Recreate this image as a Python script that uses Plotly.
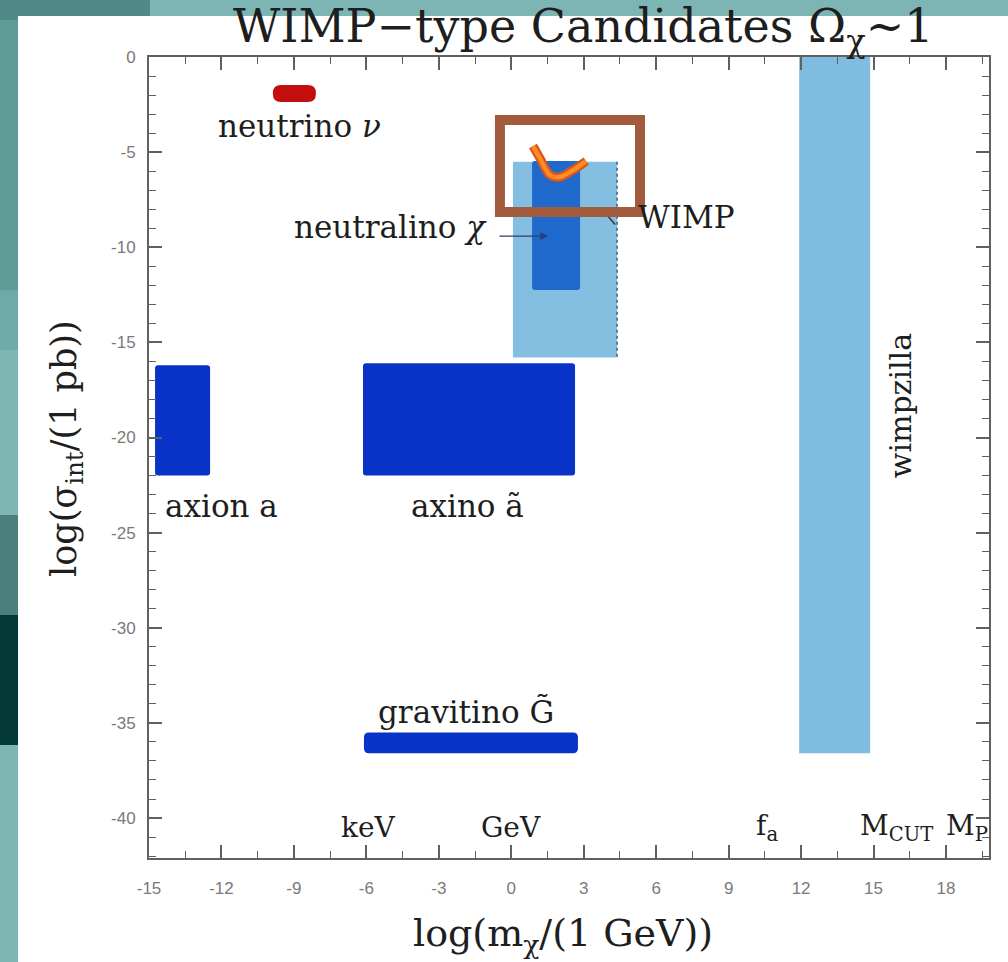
import plotly.graph_objects as go

# ---------------- data ----------------
x_range = [-15, 19.78]
y_range = [-42.1, 0]

x_tickvals = [-15, -12, -9, -6, -3, 0, 3, 6, 9, 12, 15, 18]
x_ticktext = ["-15", "-12", "-9", "-6", "-3", "0", "3", "6", "9", "12", "15", "18"]
y_tickvals = [0, -5, -10, -15, -20, -25, -30, -35, -40]
y_ticktext = ["0", "-5", "-10", "-15", "-20", "-25", "-30", "-35", "-40"]

# candidate regions (log mass range, log cross-section range)
region_names = ["wimpzilla", "WIMP", "neutralino", "axion", "axino", "gravitino", "neutrino"]
region_x0 = [11.92, 0.07, 0.86, -14.75, -6.14, -6.10, -9.87]
region_x1 = [14.86, 4.38, 2.85, -12.47, 2.64, 2.76, -8.09]
region_y0 = [0.0, -5.5, -5.47, -16.2, -16.1, -35.5, -1.47]
region_y1 = [-36.6, -15.8, -12.24, -22.0, -22.0, -36.6, -2.36]
region_colors = ["#80bcdf", "#84bfe2", "#1f69cc", "#0833c6", "#0833c6", "#0833c6", "#c40d0d"]
region_radius_px = [0, 1, 3, 3, 3, 5, 8]

# experimental curve (orange)
curve_x = [0.90, 1.20, 1.60, 1.98, 2.55, 3.10]
curve_y = [-4.68, -5.35, -6.20, -6.32, -5.95, -5.47]

# highlight box
hl_x = [-0.47, 5.33]
hl_y = [-3.31, -8.15]

# text labels
label_text = ["neutrino <i>ν</i>", "neutralino <i>χ</i>", "WIMP", "axion a", "axino ã",
              "gravitino G̃"]
label_x = [-8.75, -5.0, 7.24, -11.98, -1.83, -1.87]
label_y = [-3.63, -8.95, -8.41, -23.6, -23.6, -34.4]

# mass-scale labels along the bottom
scale_text = ["keV", "GeV", "f<sub>a</sub>", "M<sub>CUT</sub>", "M<sub>P</sub>"]
scale_x = [-5.9, 0.0, 10.6, 15.95, 18.85]
scale_y = [-40.5, -40.5, -40.5, -40.5, -40.5]

# ---------------- layout geometry ----------------
W, H = 1008, 962
ML, MR, MT, MB = 149, 19, 57, 104
PW, PH = W - ML - MR, H - MT - MB


def px_x(px):
    return (px - ML) / PW


def px_y(py):
    return (H - MB - py) / PH


xu = PW / (x_range[1] - x_range[0])   # px per x unit
yu = PH / (y_range[1] - y_range[0])   # px per y unit

LABEL_FONT = "DejaVu Serif"
TEXT_COL = "#1e1e1e"

fig = go.Figure()


def rounded_path(x0, x1, y0, y1, r):
    xa, xb = min(x0, x1), max(x0, x1)
    ya, yb = min(y0, y1), max(y0, y1)
    rx = min(r / xu, (xb - xa) / 2)
    ry = min(r / yu, (yb - ya) / 2)
    if r == 0:
        return f"M{xa},{ya} L{xb},{ya} L{xb},{yb} L{xa},{yb} Z"
    return (f"M{xa+rx},{ya} L{xb-rx},{ya} Q{xb},{ya} {xb},{ya+ry} "
            f"L{xb},{yb-ry} Q{xb},{yb} {xb-rx},{yb} L{xa+rx},{yb} "
            f"Q{xa},{yb} {xa},{yb-ry} L{xa},{ya+ry} Q{xa},{ya} {xa+rx},{ya} Z")


shapes = []
# background decoration (teal slide frame)
bg_pieces = [
    (0, 1008, 0, 16, "#7db5b5"),
    (0, 150, 0, 16, "#4f8988"),
    (0, 18, 0, 20, "#4f8988"),
    (0, 18, 20, 290, "#5e9a96"),
    (0, 18, 290, 350, "#6eaaa7"),
    (0, 18, 350, 515, "#7eb6b4"),
    (0, 18, 515, 615, "#4b7f7b"),
    (0, 18, 615, 745, "#033a38"),
    (0, 18, 745, 962, "#7eb6b4"),
]
for (a, b, c, d, col) in bg_pieces:
    shapes.append(dict(type="rect", xref="paper", yref="paper", x0=px_x(a), x1=px_x(b),
                       y0=px_y(c), y1=px_y(d), fillcolor=col, line=dict(width=0), layer="below"))

for i in range(len(region_names)):
    shapes.append(dict(type="path", xref="x", yref="y",
                       path=rounded_path(region_x0[i], region_x1[i], region_y0[i], region_y1[i],
                                         region_radius_px[i]),
                       fillcolor=region_colors[i], line=dict(width=0), layer="below"))

# dotted right edge of WIMP region
shapes.append(dict(type="line", xref="x", yref="y", x0=region_x1[1], x1=region_x1[1],
                   y0=region_y0[1], y1=region_y1[1], line=dict(color="#4a5a80", width=1.5, dash="dot"),
                   layer="below"))

# highlight box
shapes.append(dict(type="rect", xref="x", yref="y", x0=hl_x[0], x1=hl_x[1], y0=hl_y[0], y1=hl_y[1],
                   line=dict(color="#a25b3d", width=10), fillcolor="rgba(0,0,0,0)", layer="above"))

# WIMP pointer
fig.add_trace(go.Scatter(x=[3.85, 4.3], y=[-8.15, -8.8], mode="lines",
                         line=dict(color="#333333", width=1.5), hoverinfo="skip", showlegend=False))

# orange curve
fig.add_trace(go.Scatter(x=curve_x, y=curve_y, mode="lines", line=dict(color="#d9561c", width=9, shape="spline"),
                         hoverinfo="skip", showlegend=False))
fig.add_trace(go.Scatter(x=curve_x, y=curve_y, mode="lines", line=dict(color="#ff8c22", width=4.5, shape="spline"),
                         hoverinfo="skip", showlegend=False))

annotations = []
for t, x, y in zip(label_text, label_x, label_y):
    annotations.append(dict(x=x, y=y, xref="x", yref="y", text=t, showarrow=False,
                            xanchor="center", yanchor="middle",
                            font=dict(family=LABEL_FONT, size=31, color=TEXT_COL)))
for t, x, y in zip(scale_text, scale_x, scale_y):
    annotations.append(dict(x=x, y=y, xref="x", yref="y", text=t, showarrow=False,
                            xanchor="center", yanchor="middle",
                            font=dict(family=LABEL_FONT, size=28, color=TEXT_COL)))

# wimpzilla vertical label
annotations.append(dict(x=16.1, y=-18.3, xref="x", yref="y", text="wimpzilla", showarrow=False,
                        textangle=-90, font=dict(family=LABEL_FONT, size=30, color=TEXT_COL)))

# neutralino arrow
annotations.append(dict(x=1.52, y=-9.41, ax=-0.55, ay=-9.41, xref="x", yref="y", axref="x", ayref="y",
                        text="", showarrow=True, arrowhead=2, arrowsize=1.3, arrowwidth=1.2,
                        arrowcolor="#2b3d78"))

# title and axis titles
annotations.append(dict(x=px_x(583), y=px_y(30), xref="paper", yref="paper",
                        text="WIMP−type Candidates Ω<sub>χ</sub>~1", showarrow=False,
                        xanchor="center", yanchor="middle",
                        font=dict(family=LABEL_FONT, size=46, color=TEXT_COL)))
annotations.append(dict(x=px_x(563), y=px_y(935), xref="paper", yref="paper",
                        text="log(m<sub>χ</sub>/(1 GeV))", showarrow=False,
                        xanchor="center", yanchor="middle",
                        font=dict(family=LABEL_FONT, size=38, color=TEXT_COL)))
annotations.append(dict(x=px_x(66), y=px_y(449), xref="paper", yref="paper",
                        text="log(σ<sub>int</sub>/(1 pb))", showarrow=False, textangle=-90,
                        xanchor="center", yanchor="middle",
                        font=dict(family=LABEL_FONT, size=35, color=TEXT_COL)))

axis_common = dict(showgrid=False, zeroline=False, showline=True, linecolor="#606060", linewidth=2,
                   mirror="allticks", ticks="inside", tickcolor="#606060", tickwidth=1.5, ticklen=13,
                   tickfont=dict(family="Liberation Sans", size=17, color="#7a7a7a"),
                   fixedrange=True)

fig.update_layout(
    width=W, height=H,
    margin=dict(l=ML, r=MR, t=MT, b=MB, pad=0),
    paper_bgcolor="white", plot_bgcolor="white",
    showlegend=False,
    shapes=shapes,
    annotations=annotations,
    xaxis=dict(range=x_range, tickmode="array", tickvals=x_tickvals, ticktext=x_ticktext,
               ticklabelstandoff=14,
               minor=dict(ticks="inside", dtick=1.5, tick0=0, ticklen=7, tickcolor="#606060", tickwidth=1.2),
               **axis_common),
    yaxis=dict(range=y_range, tickmode="array", tickvals=y_tickvals, ticktext=y_ticktext,
               ticklabelstandoff=8,
               minor=dict(ticks="inside", dtick=1, tick0=0, ticklen=7, tickcolor="#606060", tickwidth=1.2),
               **axis_common),
)

fig.write_html("out.html")
